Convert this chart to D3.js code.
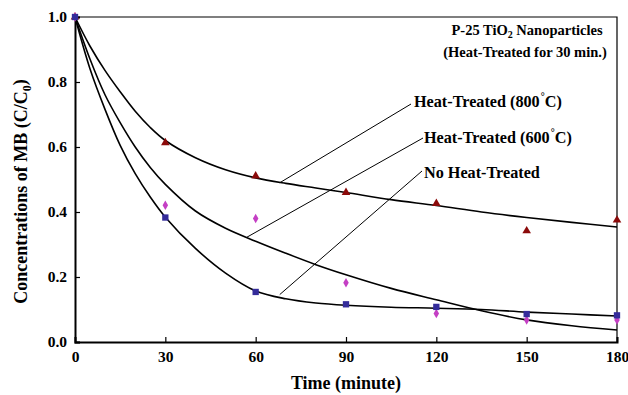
<!DOCTYPE html>
<html>
<head>
<meta charset="utf-8">
<script src="https://cdn.jsdelivr.net/npm/d3@7"></script>
<style>
  body { margin: 0; background: #fff; }
  text { font-family: "Liberation Serif", "Times New Roman", serif; font-weight: bold; }
</style>
</head>
<body>
<script>
// measured points
const timeMin = [0, 30, 60, 90, 120, 150, 180];
const heat800 = [1.0, 0.613, 0.511, 0.460, 0.426, 0.342, 0.375];
const heat600 = [1.0, 0.421, 0.380, 0.182, 0.088, 0.068, 0.068];
const noHeat = [1.0, 0.383, 0.154, 0.116, 0.108, 0.086, 0.082];

// fitted curves
const fitTime = [0, 5, 10, 15, 20, 25, 30, 40, 50, 60, 70, 80, 90, 105, 120, 135, 150, 165, 180];
const fit800 = [1.0, 0.91, 0.835, 0.77, 0.71, 0.66, 0.62, 0.567, 0.53, 0.505, 0.488, 0.474, 0.46, 0.438, 0.42, 0.40, 0.383, 0.368, 0.354];
const fit600 = [1.0, 0.87, 0.76, 0.675, 0.60, 0.537, 0.485, 0.403, 0.35, 0.31, 0.273, 0.238, 0.207, 0.165, 0.13, 0.096, 0.068, 0.05, 0.037];
const fitNo = [1.0, 0.84, 0.715, 0.605, 0.518, 0.446, 0.384, 0.288, 0.212, 0.157, 0.133, 0.12, 0.113, 0.107, 0.104, 0.100, 0.092, 0.086, 0.080];

const xTicks = [0, 30, 60, 90, 120, 150, 180];
const yTicks = [0, 0.2, 0.4, 0.6, 0.8, 1.0];

const W = 628, H = 395;
const m = { left: 75, right: 11, top: 17, bottom: 53 };

const svg = d3.select('body').append('svg').attr('width', W).attr('height', H);

const x = d3.scaleLinear().domain([0, 180]).range([m.left, W - m.right]);
const y = d3.scaleLinear().domain([0, 1]).range([H - m.bottom, m.top]);

// frame (top + right)
svg.append('path')
  .attr('d', `M${x(0)},${y(1)}H${x(180)}V${y(0)}`)
  .attr('fill', 'none').attr('stroke', '#000').attr('stroke-width', 1.2);

const xAxis = svg.append('g')
  .attr('transform', `translate(0,${y(0)})`)
  .call(d3.axisBottom(x).tickValues(xTicks).tickSize(-5).tickPadding(9).tickFormat(d3.format('d')));
const yAxis = svg.append('g')
  .attr('transform', `translate(${x(0)},0)`)
  .call(d3.axisLeft(y).tickValues(yTicks).tickSize(-5).tickPadding(8).tickFormat(d3.format('.1f')));

[xAxis, yAxis].forEach(g => {
  g.select('.domain').attr('stroke-width', 2);
  g.selectAll('.tick line').attr('stroke-width', 1.2);
  g.selectAll('.tick text').attr('font-size', 15.5).attr('font-family', '"Liberation Serif", serif').attr('font-weight', 'bold');
});

// curves
const line = d3.line().x(d => x(d[0])).y(d => y(d[1])).curve(d3.curveCatmullRom.alpha(0.5));
[fit800, fit600, fitNo].forEach(arr => {
  svg.append('path')
    .attr('d', line(fitTime.map((t, i) => [t, arr[i]])))
    .attr('fill', 'none').attr('stroke', '#000').attr('stroke-width', 1.6);
});

// markers
const sym = (type, size) => d3.symbol().type(type).size(size)();
const series = [
  { data: heat800, type: d3.symbolTriangle, size: 32, color: '#8b0a0a' },
  { data: heat600, type: d3.symbolDiamond, size: 26, color: '#c43fc4' },
  { data: noHeat, type: d3.symbolSquare, size: 40, color: '#342c9a' }
];
series.forEach(s => {
  svg.append('g').selectAll('path')
    .data(timeMin.map((t, i) => [t, s.data[i]]))
    .join('path')
    .attr('d', sym(s.type, s.size))
    .attr('transform', d => `translate(${x(d[0])},${y(d[1])})`)
    .attr('fill', s.color);
});

// annotation leaders
const leaders = [
  { from: [68, 0.49], to: [411, 104], label: 'Heat-Treated (800', lx: 414, ly: 101 },
  { from: [57, 0.322], to: [423, 138], label: 'Heat-Treated (600', lx: 424, ly: 137 },
  { from: [68, 0.146], to: [422, 171], label: 'No Heat-Treated', lx: 424, ly: 172 }
];
leaders.forEach((a, i) => {
  svg.append('line')
    .attr('x1', x(a.from[0])).attr('y1', y(a.from[1]))
    .attr('x2', a.to[0]).attr('y2', a.to[1])
    .attr('stroke', '#000').attr('stroke-width', 1);
  const t = svg.append('text')
    .attr('x', a.lx).attr('y', a.ly).attr('dy', '0.35em')
    .attr('font-size', 16.2);
  t.append('tspan').text(a.label);
  if (i < 2) {
    t.append('tspan').attr('font-size', 10).attr('dy', '-0.7em').attr('dx', 1).text('°');
    t.append('tspan').attr('dy', '0.45em').text('C)');
  }
});

// title box text
const t1 = svg.append('text').attr('x', 527).attr('y', 30).attr('dy', '0.35em')
  .attr('text-anchor', 'middle').attr('font-size', 14.5);
t1.append('tspan').text('P-25 TiO');
t1.append('tspan').attr('font-size', 10).attr('dy', '0.3em').text('2');
t1.append('tspan').attr('dy', '-0.2em').text(' Nanoparticles');
svg.append('text').attr('x', 525).attr('y', 52).attr('dy', '0.35em')
  .attr('text-anchor', 'middle').attr('font-size', 14.5)
  .text('(Heat-Treated for 30 min.)');

// axis titles
svg.append('text').attr('x', x(90)).attr('y', 383).attr('dy', '0.35em')
  .attr('text-anchor', 'middle').attr('font-size', 18)
  .text('Time (minute)');

const yt = svg.append('text')
  .attr('transform', `translate(21,${(y(0) + y(1)) / 2 + 12}) rotate(-90)`)
  .attr('dy', '0.35em').attr('text-anchor', 'middle').attr('font-size', 18);
yt.append('tspan').text('Concentrations of MB (C/C');
yt.append('tspan').attr('font-size', 12).attr('dy', '0.3em').text('0');
yt.append('tspan').attr('dy', '-0.25em').text(')');
</script>
</body>
</html>
